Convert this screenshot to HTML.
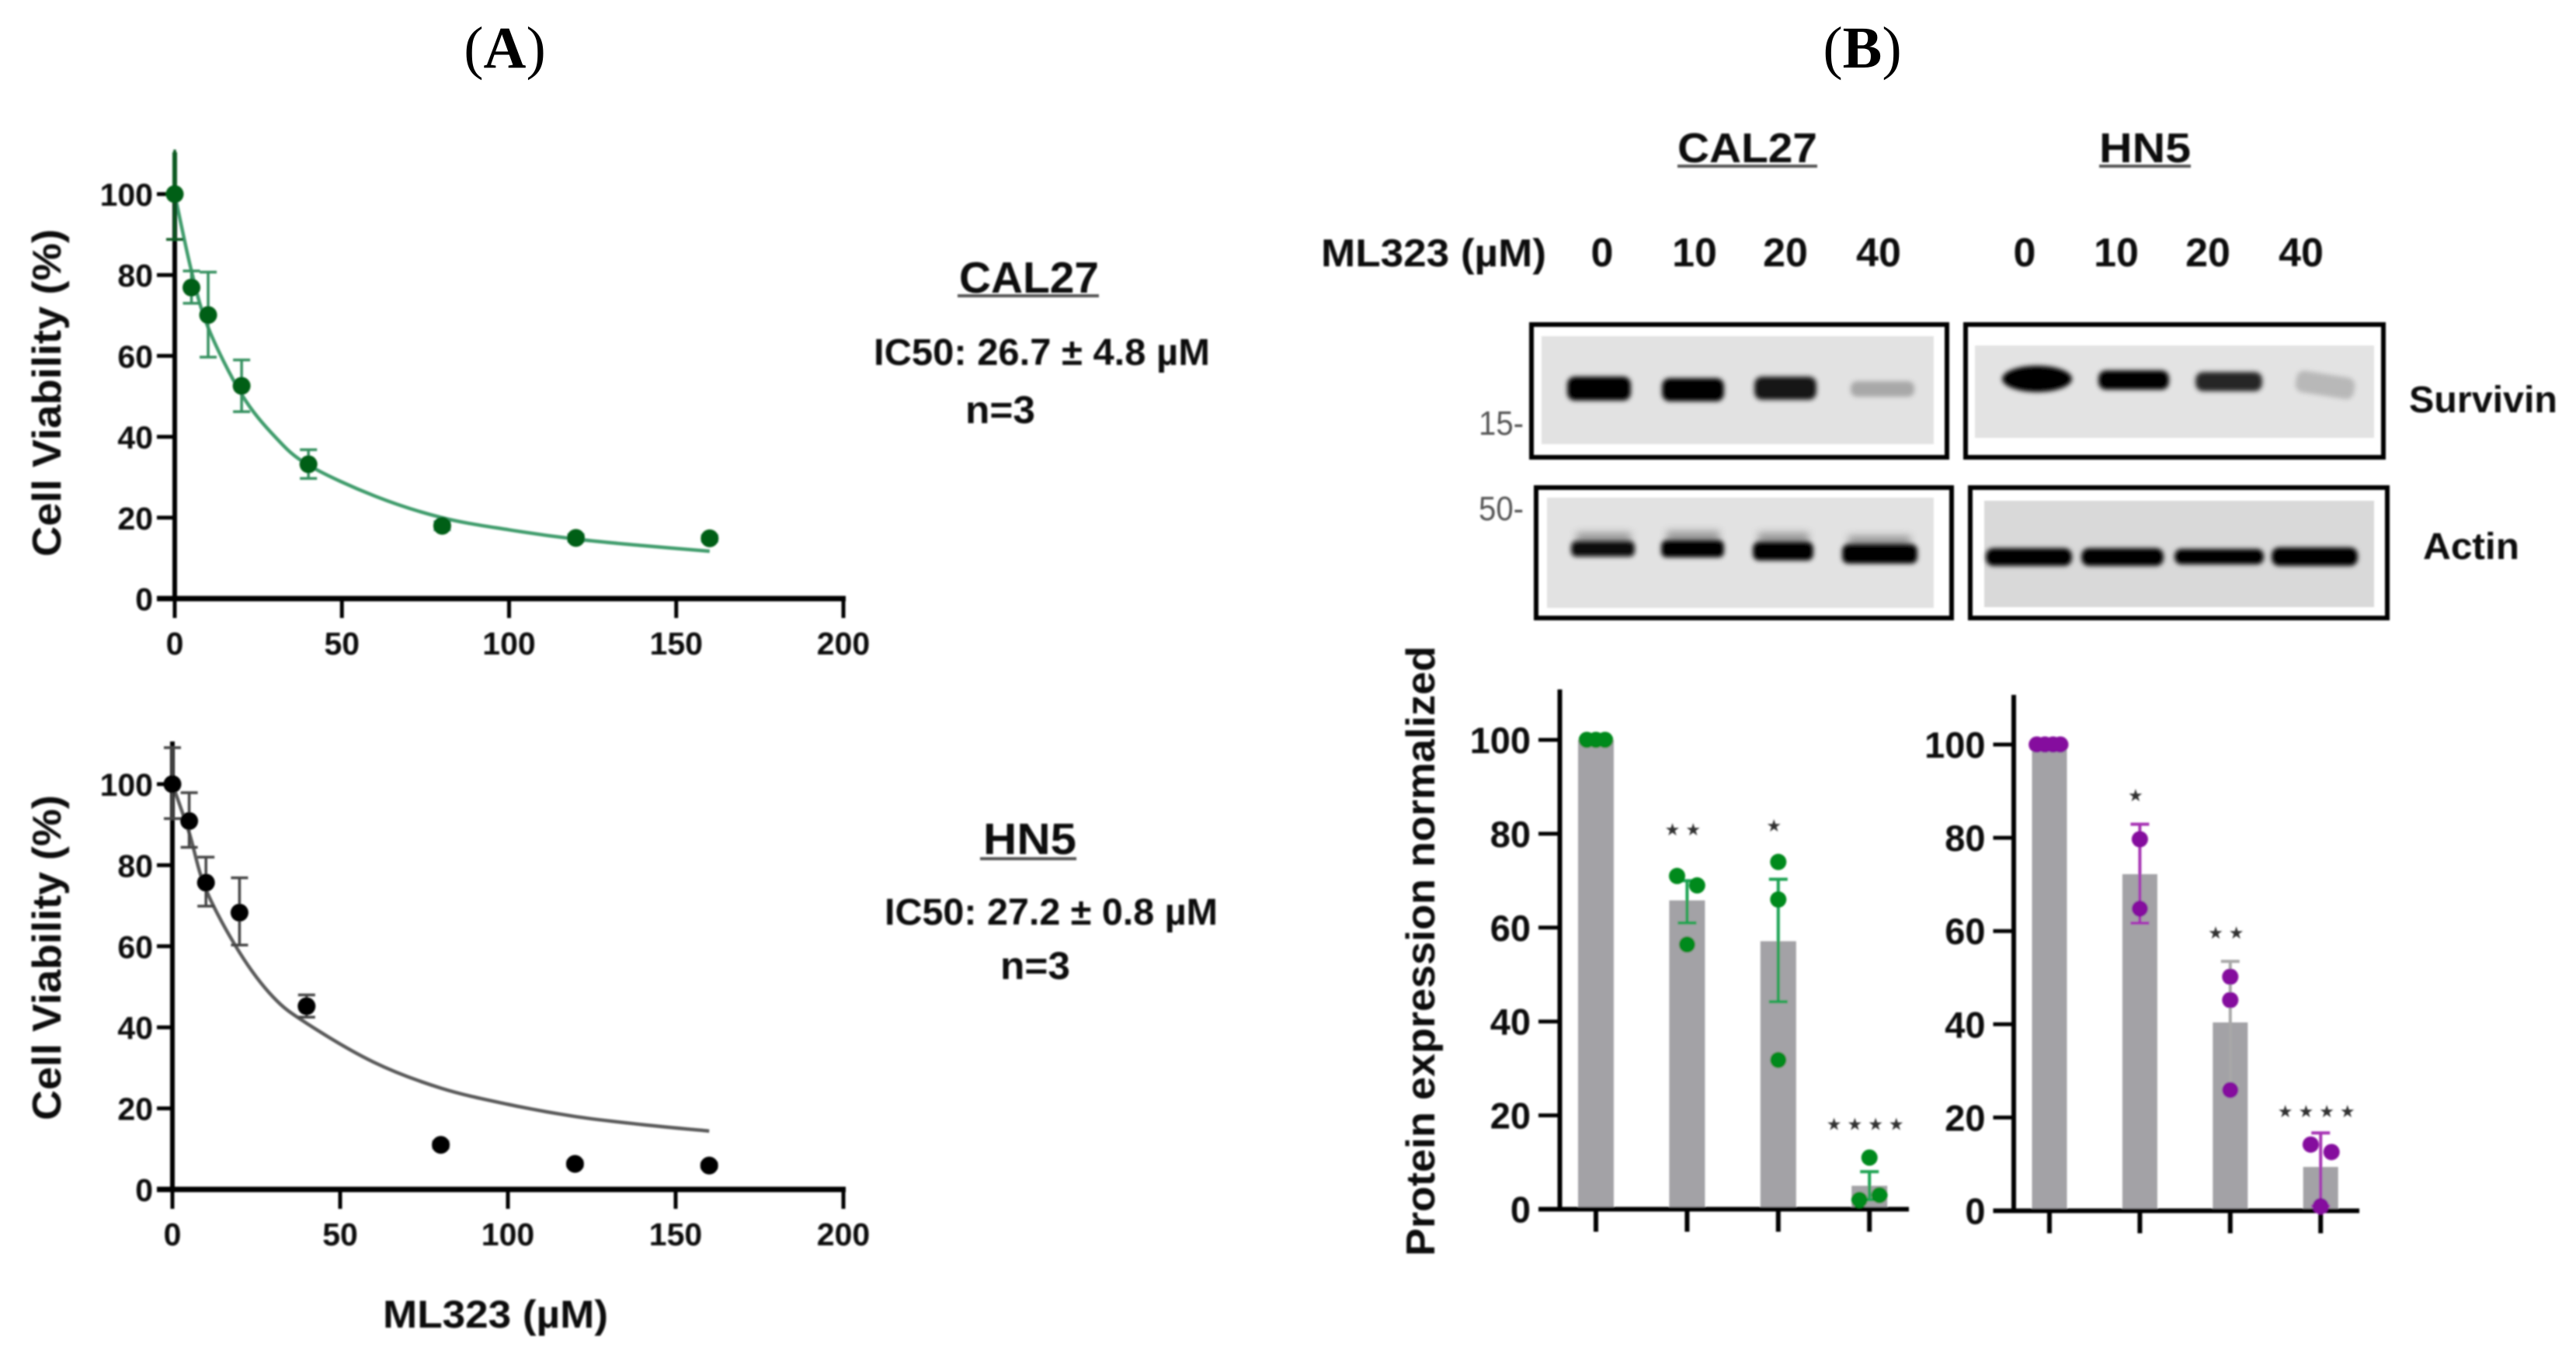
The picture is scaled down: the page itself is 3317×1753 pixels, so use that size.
<!DOCTYPE html>
<html lang="en">
<head>
<meta charset="utf-8">
<title>ML323 viability and survivin expression</title>
<style>
html,body{margin:0;padding:0;background:#fff;}
svg{display:block;}
text{font-family:"Liberation Sans",sans-serif;font-weight:700;fill:#111;}
.serif{font-family:"Liberation Serif",serif;font-weight:400;fill:#000;}
</style>
</head>
<body>
<svg id="figure" xmlns="http://www.w3.org/2000/svg" width="3317" height="1753" viewBox="0 0 3317 1753">
<defs>
<filter id="soft" filterUnits="userSpaceOnUse" x="0" y="0" width="3317" height="1753"><feGaussianBlur stdDeviation="1.1"/></filter>
<filter id="bandBlur" filterUnits="userSpaceOnUse" x="0" y="0" width="3317" height="1753"><feGaussianBlur stdDeviation="2.8"/></filter>
<filter id="haloBlur" filterUnits="userSpaceOnUse" x="0" y="0" width="3317" height="1753"><feGaussianBlur stdDeviation="5"/></filter>
</defs>
<rect width="3317" height="1753" fill="#fff"/>

<text class="serif" x="650" y="87" font-size="76" text-anchor="middle">(<tspan font-weight="700" style="font-weight:700">A</tspan>)</text>
<text class="serif" x="2398" y="87" font-size="76" text-anchor="middle">(<tspan font-weight="700" style="font-weight:700">B</tspan>)</text>

<g filter="url(#soft)">
  <text x="2160" y="209" font-size="54" textLength="180" lengthAdjust="spacingAndGlyphs">CAL27</text>
  <rect x="2160" y="212" width="180" height="4" fill="#555"/>
  <text x="2703" y="209" font-size="54" textLength="118" lengthAdjust="spacingAndGlyphs">HN5</text>
  <rect x="2703" y="212" width="118" height="4" fill="#555"/>
  <text x="1701" y="343" font-size="50" textLength="290" lengthAdjust="spacingAndGlyphs">ML323 (µM)</text>
  <text x="2063" y="343" font-size="52" text-anchor="middle">0</text>
  <text x="2182" y="343" font-size="52" text-anchor="middle">10</text>
  <text x="2299" y="343" font-size="52" text-anchor="middle">20</text>
  <text x="2419" y="343" font-size="52" text-anchor="middle">40</text>
  <text x="2607" y="343" font-size="52" text-anchor="middle">0</text>
  <text x="2725" y="343" font-size="52" text-anchor="middle">10</text>
  <text x="2843" y="343" font-size="52" text-anchor="middle">20</text>
  <text x="2963" y="343" font-size="52" text-anchor="middle">40</text>

  <rect x="1985" y="433" width="505" height="139" fill="#e2e2e2"/>
  <rect x="1992" y="641" width="498" height="142" fill="#e2e2e2"/>
  <rect x="2543" y="445" width="514" height="119" fill="#e3e3e3"/>
  <rect x="2555" y="645" width="502" height="137" fill="#d9d9d9"/>

  <g filter="url(#haloBlur)">
    <rect x="2030" y="686" width="70" height="14" fill="#999"/>
    <rect x="2146" y="684" width="68" height="16" fill="#999"/>
    <rect x="2264" y="686" width="65" height="16" fill="#999"/>
    <rect x="2380" y="690" width="80" height="16" fill="#999"/>
  </g>

  <g filter="url(#bandBlur)">
    <rect x="2018" y="485" width="82" height="31" rx="10" fill="#000"/>
    <rect x="2140" y="487" width="80" height="30" rx="10" fill="#000"/>
    <rect x="2259" y="485" width="80" height="30" rx="10" fill="#151515"/>
    <rect x="2383" y="491" width="82" height="20" rx="8" fill="#a8a8a8"/>
    <rect x="2023" y="697" width="82" height="20" rx="7" fill="#0c0c0c"/>
    <rect x="2139" y="696" width="81" height="22" rx="7" fill="#000"/>
    <rect x="2257" y="698" width="78" height="24" rx="8" fill="#000"/>
    <rect x="2372" y="701" width="97" height="25" rx="8" fill="#000"/>
    <ellipse cx="2623" cy="488" rx="45" ry="17" fill="#000"/>
    <rect x="2702" y="477" width="91" height="25" rx="10" fill="#000"/>
    <rect x="2827" y="479" width="86" height="25" rx="10" fill="#262626"/>
    <rect x="2956" y="482" width="76" height="28" rx="10" fill="#b8b8b8" transform="rotate(9 2995 496)"/>
    <rect x="2557" y="706" width="111" height="23" rx="10" fill="#000"/>
    <rect x="2680" y="706" width="106" height="23" rx="10" fill="#000"/>
    <rect x="2800" y="707" width="115" height="20" rx="9" fill="#000"/>
    <rect x="2925" y="705" width="111" height="24" rx="10" fill="#000"/>
  </g>

  <rect x="1972" y="418" width="535" height="171" fill="none" stroke="#000" stroke-width="6"/>
  <rect x="1978" y="628" width="535" height="168" fill="none" stroke="#000" stroke-width="6"/>
  <rect x="2531" y="418" width="538" height="171" fill="none" stroke="#000" stroke-width="6"/>
  <rect x="2537" y="628" width="537" height="168" fill="none" stroke="#000" stroke-width="6"/>

  <text x="1904" y="560" font-size="44" style="fill:#555;font-weight:400" textLength="58" lengthAdjust="spacingAndGlyphs">15-</text>
  <text x="1904" y="670" font-size="44" style="fill:#555;font-weight:400" textLength="58" lengthAdjust="spacingAndGlyphs">50-</text>
  <text x="3102" y="531" font-size="48" textLength="191" lengthAdjust="spacingAndGlyphs">Survivin</text>
  <text x="3120" y="720" font-size="48" textLength="124" lengthAdjust="spacingAndGlyphs">Actin</text>
</g>

<g filter="url(#soft)">
  <text x="1235" y="377" font-size="57" textLength="180" lengthAdjust="spacingAndGlyphs">CAL27</text>
  <rect x="1233" y="379" width="182" height="4" fill="#555"/>
  <text x="1125" y="470" font-size="48" textLength="433" lengthAdjust="spacingAndGlyphs">IC50: 26.7 ± 4.8 µM</text>
  <text x="1243" y="545" font-size="50" textLength="90" lengthAdjust="spacingAndGlyphs">n=3</text>
  <text x="1266" y="1100" font-size="57" textLength="120" lengthAdjust="spacingAndGlyphs">HN5</text>
  <rect x="1262" y="1104" width="124" height="4" fill="#555"/>
  <text x="1139" y="1191" font-size="48" textLength="429" lengthAdjust="spacingAndGlyphs">IC50: 27.2 ± 0.8 µM</text>
  <text x="1288" y="1261" font-size="50" textLength="90" lengthAdjust="spacingAndGlyphs">n=3</text>
  <text x="493" y="1710" font-size="50" textLength="290" lengthAdjust="spacingAndGlyphs">ML323 (µM)</text>
</g>

<g id="charts" filter="url(#soft)"></g>
</svg>

<script>
// ---- Dose-response data ----
const doses = [0, 5, 10, 20, 40, 80, 120, 160];
const cal27Viability = [100, 76.9, 70.1, 52.6, 33.2, 18, 15, 14.9];
const cal27ErrHigh = [111, 81, 80.7, 59, 36.8, 19, 15.8, 15.6];
const cal27ErrLow = [88.8, 73, 59.7, 46.2, 29.7, 17, 14.2, 14.2];
const hn5Viability = [100, 90.9, 75.7, 68.3, 45.2, 11, 6.3, 5.9];
const hn5ErrHigh = [109, 97.9, 82, 76.9, 48, 11.8, 7, 6.5];
const hn5ErrLow = [91.5, 84.4, 69.9, 60.3, 42.5, 10.2, 5.6, 5.3];
const fitDoses = [0, 5, 10, 20, 30, 40, 60, 80, 100, 120, 140, 160];
const cal27Fit = [100, 81, 67, 50.5, 40, 33, 25.3, 20, 17, 14.7, 13.1, 11.7];
const hn5Fit = [100, 88, 74, 58.5, 47.5, 41, 31.4, 25, 21, 18, 16, 14.4];
const doseTicks = [0, 50, 100, 150, 200];
const viabilityTicks = [0, 20, 40, 60, 80, 100];
const viabilityAxisLabel = 'Cell Viability (%)';

// ---- Protein expression data ----
const proteinCategories = ['0', '10', '20', '40'];
const proteinTicks = [0, 20, 40, 60, 80, 100];
const cal27Means = [100, 65.8, 57.1, 5];
const cal27Replicates = [[100, 100, 100], [71, 69, 56.4], [74, 66, 31.8], [11, 2, 3]];
const cal27Jitter = [[-0.1, 0, 0.1], [-0.11, 0.11, 0], [0, 0, 0], [0, -0.11, 0.11]];
const cal27BarHigh = [100, 70, 70.3, 8];
const cal27BarLow = [100, 61, 44.2, 2];
const cal27Stars = ['', '★★', '★', '★★★★'];
const cal27StarLevel = [0, 81, 81.8, 18.2];
const hn5Means = [100, 72.2, 40.4, 9.4];
const hn5Replicates = [[100, 100, 100, 100], [79.7, 64.8], [50.2, 45.2, 25.9], [14.2, 12.6, 1]];
const hn5Jitter = [[-0.14, -0.05, 0.04, 0.12], [0, 0], [0, 0, 0], [-0.11, 0.12, 0]];
const hn5BarHigh = [100, 82.9, 53.5, 16.7];
const hn5BarLow = [100, 61.7, 27, 1];
const hn5Stars = ['', '★', '★★', '★★★★'];
const hn5StarLevel = [0, 89.2, 59.7, 21.4];

const NS = 'http://www.w3.org/2000/svg';
const root = document.getElementById('charts');

function make(tag, attrs, parent) {
  const e = document.createElementNS(NS, tag);
  for (const k in attrs) e.setAttribute(k, attrs[k]);
  parent.appendChild(e);
  return e;
}
function linear(d0, d1, r0, r1) {
  return v => r0 + (v - d0) * (r1 - r0) / (d1 - d0);
}
function smoothPath(pts) {
  let d = 'M' + pts[0][0] + ' ' + pts[0][1];
  for (let i = 0; i < pts.length - 1; i++) {
    const p0 = pts[i - 1] || pts[i], p1 = pts[i], p2 = pts[i + 1], p3 = pts[i + 2] || p2;
    const c1x = p1[0] + (p2[0] - p0[0]) / 6, c1y = p1[1] + (p2[1] - p0[1]) / 6;
    const c2x = p2[0] - (p3[0] - p1[0]) / 6, c2y = p2[1] - (p3[1] - p1[1]) / 6;
    d += 'C' + c1x + ' ' + c1y + ' ' + c2x + ' ' + c2y + ' ' + p2[0] + ' ' + p2[1];
  }
  return d;
}
function hLine(parent, x1, x2, y, color, w) {
  return make('line', {x1: x1, x2: x2, y1: y, y2: y, stroke: color, 'stroke-width': w}, parent);
}
function vLine(parent, x, y1, y2, color, w) {
  return make('line', {x1: x, x2: x, y1: y1, y2: y2, stroke: color, 'stroke-width': w}, parent);
}

function errorBar(parent, x, yHigh, yLow, cap, color, w, hideTopCap) {
  const g = make('g', {}, parent);
  
  
  vLine(g, x, yHigh, yLow, color, w);
  if (!hideTopCap) hLine(g, x - cap, x + cap, yHigh, color, w);
  hLine(g, x - cap, x + cap, yLow, color, w);
}

function doseChart(o) {
  const g = make('g', {}, root);
  
  
  const x = linear(0, 200, o.x0, o.x200);
  const y = linear(0, 100, o.y0, o.y100);

  const fit = make('path', {d: smoothPath(o.fitX.map((d, i) => [x(d), y(o.fit[i])])), fill: 'none', stroke: o.fitColor, 'stroke-width': 4.5}, g);
  
  

  const yAxis = vLine(g, o.x0, o.top, o.y0, '#000', 6);
  
  
  const xAxis = hLine(g, o.tickLeft, o.x200 + 3, o.y0, '#000', 7);
  
  

  viabilityTicks.forEach(t => {
    const tick = hLine(g, o.tickLeft, o.x0, y(t), '#000', 5);
    
    
    const lab = make('text', {x: o.tickLeft - 5, y: y(t) + 15, 'font-size': 41, 'text-anchor': 'end'}, g);
    lab.textContent = t;
    
    
  });
  doseTicks.forEach(t => {
    const tick = vLine(g, x(t), o.y0, o.tickBottom, '#000', 5);
    
    
    const lab = make('text', {x: x(t), y: o.labelBase, 'font-size': 41, 'text-anchor': 'middle'}, g);
    lab.textContent = t;
    
    
  });

  const title = make('text', {
    transform: 'translate(' + o.titleX + ' ' + o.titleBottom + ') rotate(-90)',
    'font-size': 52, textLength: o.titleLen, lengthAdjust: 'spacingAndGlyphs'
  }, g);
  title.textContent = viabilityAxisLabel;
  
  

  doses.forEach((d, i) => {
    errorBar(g, x(d), y(o.high[i]), y(o.low[i]), 11, i === 0 && o.firstErrColor ? o.firstErrColor : o.errColor, 3.5, i === 0 && o.hideFirstTopCap);
  });
  if (o.firstErrColor) {
    const top = vLine(g, o.x0, o.top, y(100), o.firstErrColor, 6);
    
    
  }
  doses.forEach((d, i) => {
    const c = make('circle', {cx: x(d), cy: y(o.values[i]), r: 11.5, fill: o.dotColor}, g);
    
    
  });
}

function barChart(o) {
  const g = make('g', {}, root);
  
  
  const y = linear(0, 100, o.y0, o.y100);
  const cx = i => o.firstX + i * o.step;

  proteinCategories.forEach((c, i) => {
    const top = y(o.means[i]);
    const b = make('rect', {x: cx(i) - o.barW / 2, y: top, width: o.barW, height: o.y0 - top, fill: '#a3a2a6'}, g);
    
    
  });

  const yAxis = vLine(g, o.axisX, o.top, o.y0 + 3, '#000', 6);
  
  
  const xAxis = hLine(g, o.tickLeft, o.axisRight, o.y0, '#000', 6);
  
  

  proteinTicks.forEach(t => {
    const tick = hLine(g, o.tickLeft, o.axisX, y(t), '#000', 5);
    
    
    const lab = make('text', {x: o.tickLeft - 10, y: y(t) + 17, 'font-size': 47, 'text-anchor': 'end'}, g);
    lab.textContent = t;
    
    
  });
  proteinCategories.forEach((c, i) => {
    const tick = vLine(g, cx(i), o.y0, o.y0 + 29, '#000', 6);
    
    
  });

  proteinCategories.forEach((c, i) => {
    if (o.high[i] > o.low[i]) {
      errorBar(g, cx(i), y(o.high[i]), y(o.low[i]), 12, i === o.grayErr ? '#a8a8a8' : o.errColor, 4, false);
    }
    o.reps[i].forEach((v, j) => {
      const d = make('circle', {cx: cx(i) + o.jitter[i][j] * o.step, cy: y(v), r: 10.5, fill: o.dotColor}, g);
      
      
    });
    if (o.stars[i]) {
      const s = make('text', {
        x: cx(i) - 2, y: y(o.starLevel[i]) + 8, 'font-size': 22, 'text-anchor': 'middle',
        style: 'font-family:\"DejaVu Sans\",sans-serif;font-weight:400;fill:#333;letter-spacing:7px'
      }, g);
      s.textContent = o.stars[i];
      
      
    }
  });
}

doseChart({
  name: 'cal27-viability-chart', x0: 225, x200: 1086, y0: 771, y100: 250, top: 196,
  tickLeft: 202, tickBottom: 796, labelBase: 843, titleX: 78, titleBottom: 717, titleLen: 422,
  values: cal27Viability, high: cal27ErrHigh, low: cal27ErrLow, fitX: fitDoses, fit: cal27Fit,
  fitColor: '#3f9c6c', errColor: '#35905f', dotColor: '#005f14',
  firstErrColor: '#0b5a23', hideFirstTopCap: true
});
doseChart({
  name: 'hn5-viability-chart', x0: 222, x200: 1086, y0: 1532, y100: 1010, top: 955,
  tickLeft: 202, tickBottom: 1557, labelBase: 1604, titleX: 78, titleBottom: 1443, titleLen: 419,
  values: hn5Viability, high: hn5ErrHigh, low: hn5ErrLow, fitX: fitDoses, fit: hn5Fit,
  fitColor: '#5a5a5a', errColor: '#444', dotColor: '#000'
});
barChart({
  name: 'cal27-protein-chart', axisX: 2008.5, axisRight: 2458, tickLeft: 1981, y0: 1557.5, y100: 953, top: 888,
  firstX: 2055, step: 117.4, barW: 46, means: cal27Means, reps: cal27Replicates, jitter: cal27Jitter,
  high: cal27BarHigh, low: cal27BarLow, stars: cal27Stars, starLevel: cal27StarLevel,
  errColor: '#1fa352', dotColor: '#008a1e', grayErr: -1
});
barChart({
  name: 'hn5-protein-chart', axisX: 2593, axisRight: 3038, tickLeft: 2566.5, y0: 1559.5, y100: 959, top: 895,
  firstX: 2639, step: 116.4, barW: 45, means: hn5Means, reps: hn5Replicates, jitter: hn5Jitter,
  high: hn5BarHigh, low: hn5BarLow, stars: hn5Stars, starLevel: hn5StarLevel,
  errColor: '#a633b3', dotColor: '#850a9e', grayErr: 2
});

const proteinTitle = make('text', {
  transform: 'translate(1847 1618) rotate(-90)', 'font-size': 52, textLength: 786, lengthAdjust: 'spacingAndGlyphs'
}, root);
proteinTitle.textContent = 'Protein expression normalized';


</script>
</body>
</html>
